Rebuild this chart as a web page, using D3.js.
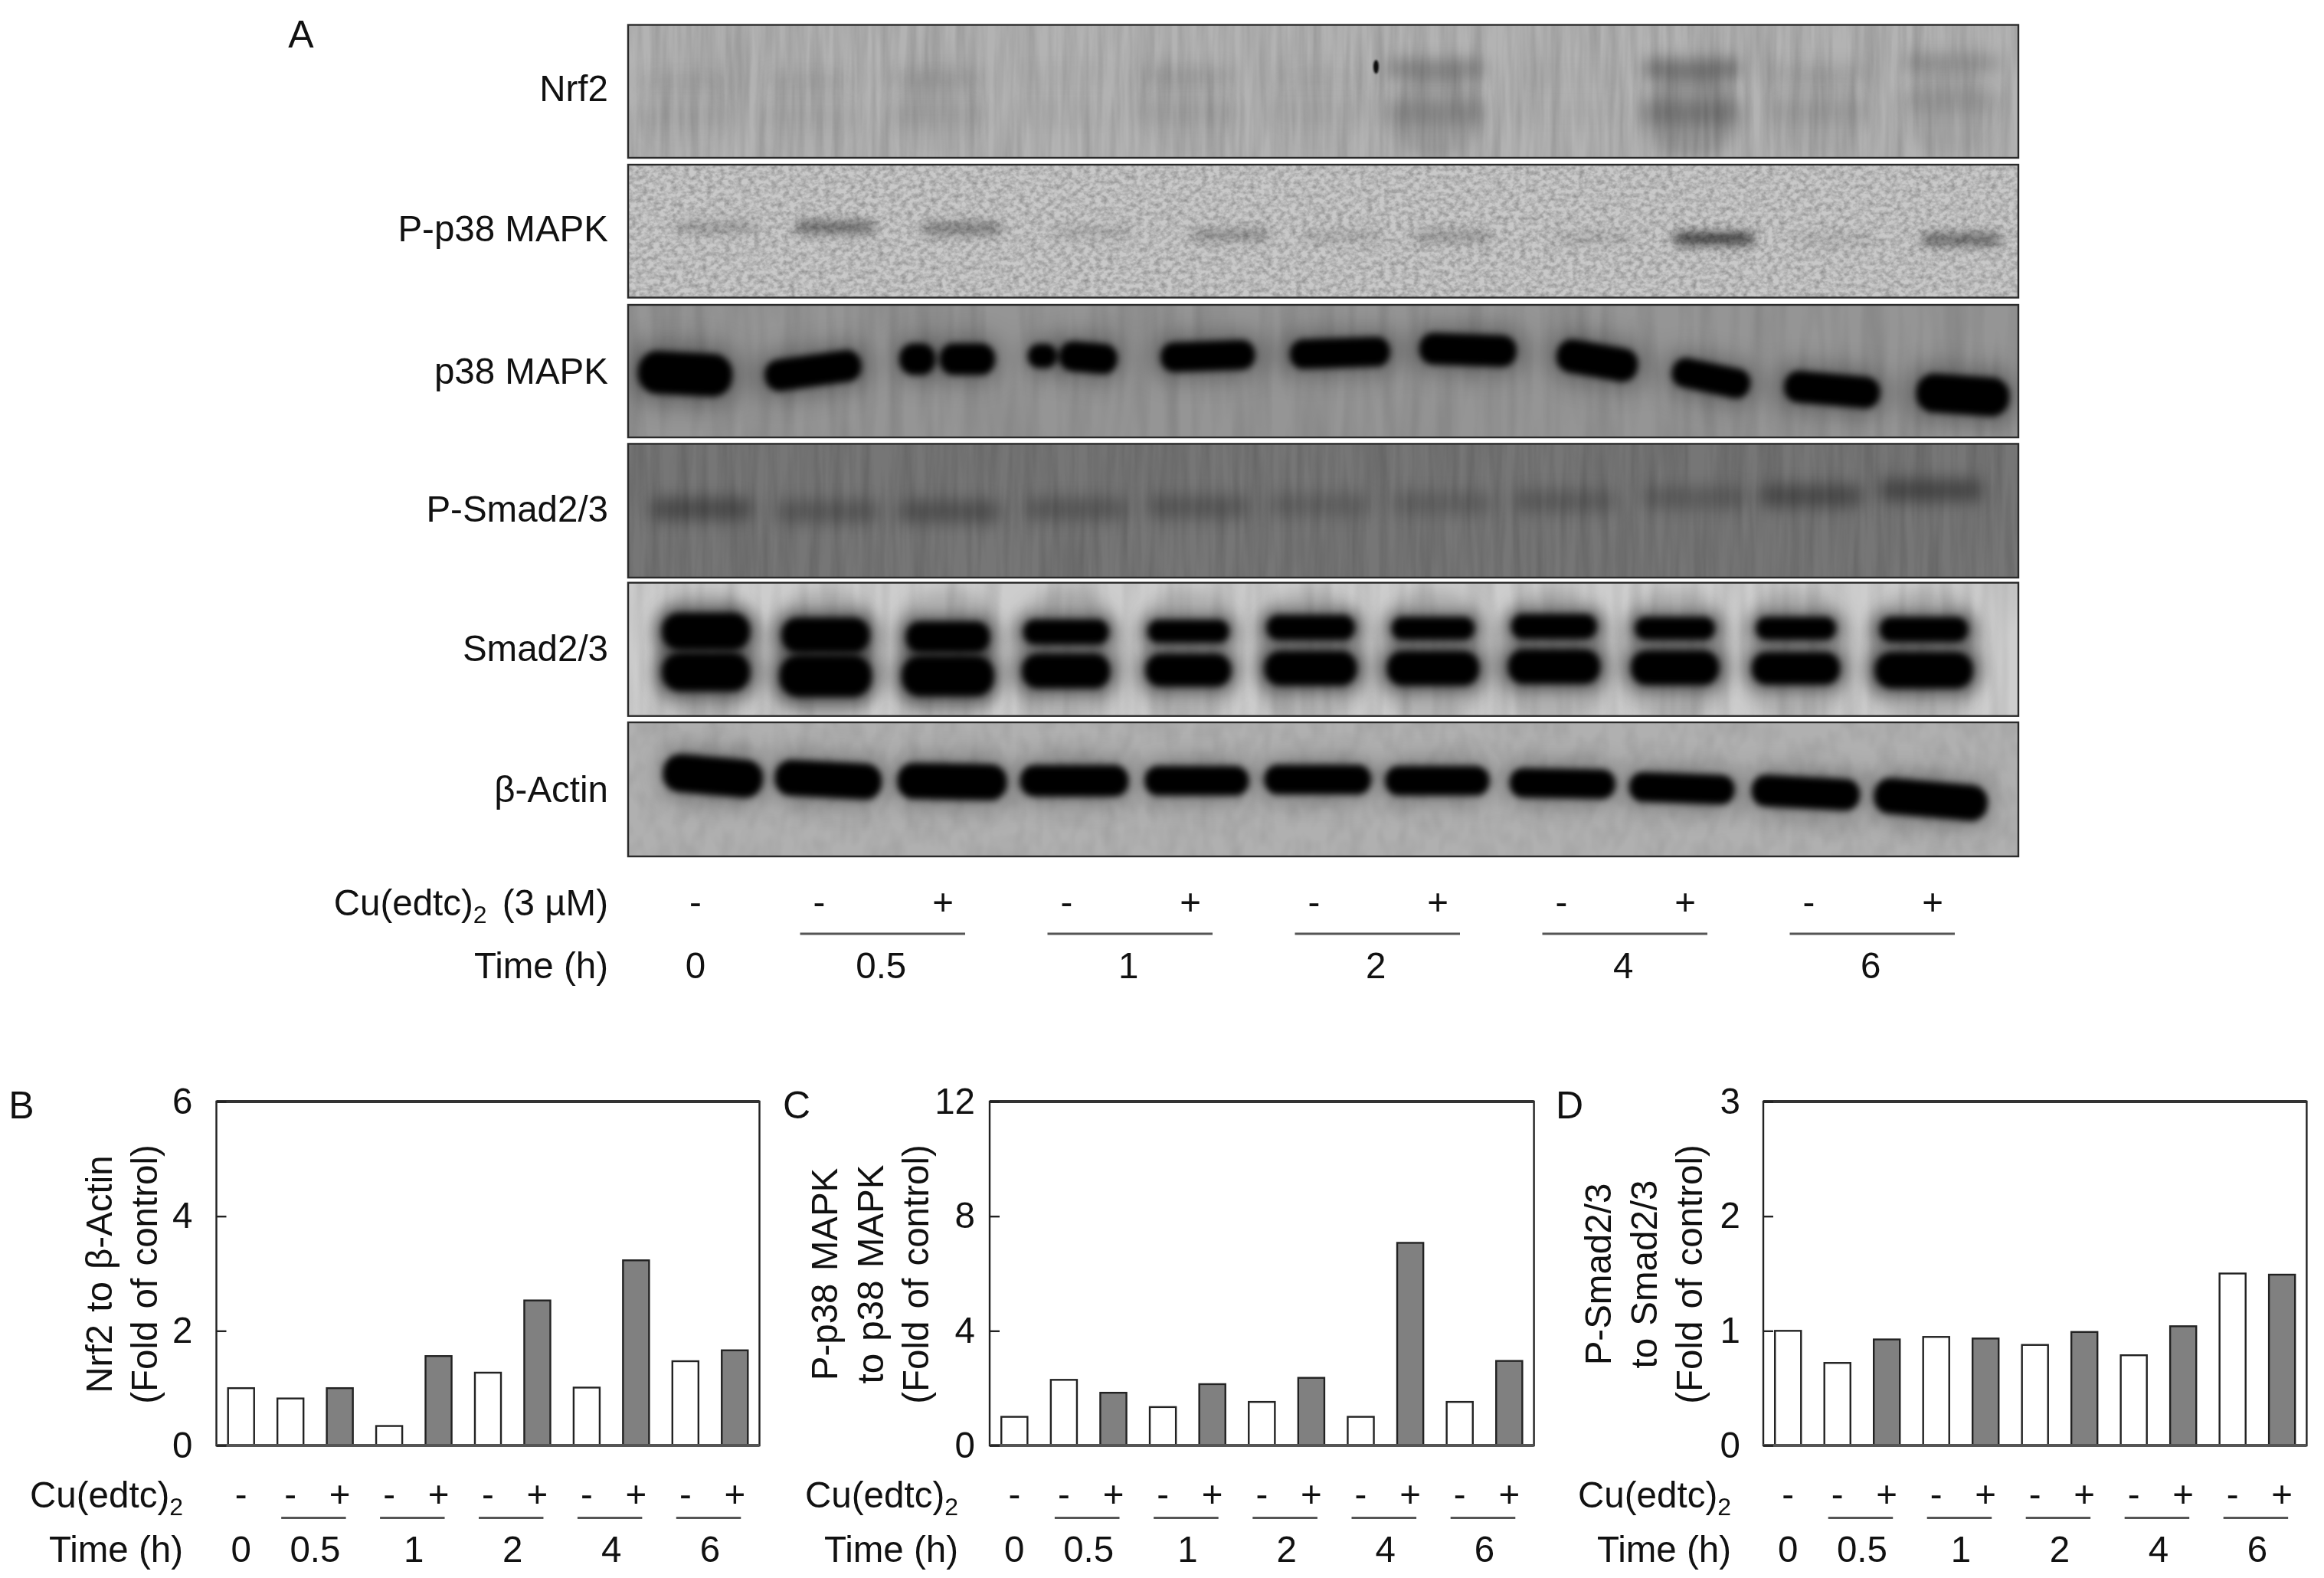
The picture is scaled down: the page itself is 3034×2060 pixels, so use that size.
<!DOCTYPE html>
<html><head><meta charset="utf-8">
<script src="https://cdn.jsdelivr.net/npm/d3@7/dist/d3.min.js"></script>
<style>
html,body{margin:0;padding:0;background:#fff}
svg{display:block;filter:blur(0.6px)}
text{font-family:"Liberation Sans",Arial,sans-serif;fill:#111}
</style></head><body>
<svg id="fig" width="3034" height="2060"></svg>
<script>
// ---------- data: bar charts ----------
const treatment = ["-","-","+","-","+","-","+","-","+","-","+"];
const timeLabels = ["0","0.5","1","2","4","6"];
const nrf2Values  = [1.00,0.82,1.00,0.34,1.56,1.27,2.53,1.01,3.23,1.47,1.66];
const pp38Values  = [1.00,2.29,1.84,1.34,2.14,1.52,2.36,1.00,7.07,1.52,2.95];
const psmadValues = [1.00,0.72,0.925,0.947,0.933,0.877,0.99,0.787,1.04,1.50,1.49];
const nrf2Ticks = [0,2,4,6], pp38Ticks = [0,4,8,12], psmadTicks = [0,1,2,3];
const blotLabels = ["Nrf2","P-p38 MAPK","p38 MAPK","P-Smad2/3","Smad2/3","β-Actin"];

// ---------- data: gel bands (percent of gel width / height, darkness 0..1) ----------
const nrf2LaneX   = [3.9,13,22.1,31.3,40.4,49.5,58.1,67.8,76.5,85.7,95.2];
const nrf2UpperY  = [42,42,40,38,38,38,33,38,33,36,29];
const nrf2LowerY  = [69,69,68,66,66,66,66,66,66,65,57];
const nrf2UpperD  = [.10,.10,.18,.04,.20,.06,.55,.03,.75,.18,.38];
const nrf2LowerD  = [.12,.10,.15,.05,.15,.08,.40,.03,.55,.20,.25];
const nrf2SmearD  = [.06,.06,.08,.0,.08,.04,.28,.0,.42,.14,.16];

const pp38LaneX = [6.3,14.9,24,33.4,43.3,51.4,59.3,69.4,78.1,86.8,95.9];
const pp38Y     = [47,47,48,50.6,52.9,54,54,55.2,55.6,56.3,56.3];
const pp38D     = [.22,.56,.44,.13,.30,.13,.24,.12,.88,.10,.58];

const p38X = [4.1,13.3,20.8,24.4,29.8,33.1,41.7,51.2,60.4,69.7,77.9,86.6,96];
const p38Y = [52,49.6,41,41,38.6,39.8,38.6,36.3,34,42,55.3,64,68];
const p38W = [6.8,7,2.6,4,2.1,4.2,6.8,7.2,7,5.9,5.7,6.9,6.7];
const p38H = [26.5,19.6,19.6,19.6,15,18.7,18.4,18.4,19.6,20.7,18.4,19.6,24];
const p38Tilt = [3,-8,0,0,0,5,-2,-2,2,10,12,5,4];

const psmadLaneX = [5.3,14.4,23.1,32.2,41,49.7,58.6,67.4,76.7,85.1,93.7];
const psmadY = [48.6,50.6,50.6,48.6,47.2,45.8,44.4,43,40.3,38.9,34.7];
const psmadD = [.50,.35,.42,.34,.34,.24,.24,.30,.30,.50,.55];

const smadLaneX  = [5.6,14.2,23,31.5,40.3,49.1,57.9,66.6,75.3,84,93.2];
const smadUpperY = [36.5,39.3,40.7,37,36.5,33.7,34.3,32.9,34.3,34.3,35.1];
const smadUpperH = [25,23.7,21,16.7,15.3,16.7,15.3,16.7,15.3,15.3,16.7];
const smadUpperW = [6.3,6.3,6,6.1,5.8,6.3,5.9,6.1,5.7,5.7,6.3];
const smadLowerY = [67,70,70,66.3,65.7,64.3,64.3,63,63.8,64.3,65.7];
const smadLowerH = [26.5,29,28,23.7,22.3,23.7,23.7,23.7,23.7,22.3,25];
const smadLowerW = [6.3,6.6,6.6,6.3,6.1,6.6,6.6,6.6,6.3,6.3,7];

const actinX = [6.1,14.4,23.3,32.1,40.9,49.6,58.2,67.2,75.8,84.7,93.7];
const actinY = [40,42.8,44.2,43.6,43.6,42.7,43.6,45.6,49.2,52.5,57.5];
const actinW = [7.2,7.7,7.9,7.8,7.5,7.7,7.5,7.6,7.6,7.8,8.2];
const actinH = [24.9,23.5,23.5,20.7,19.3,19.3,19.3,19.3,19.3,20.7,23.5];
const actinTilt = [5,3,1,0,0,0,0,1,2,3,5];

// ---------- layout ----------
const svg = d3.select("#fig");
const defs = svg.append("defs");
const FONT = 47.5;
function blurFilter(id,sd){
  const f=defs.append("filter").attr("id",id).attr("x","-150%").attr("y","-150%").attr("width","400%").attr("height","400%");
  f.append("feGaussianBlur").attr("stdDeviation",sd);
}
blurFilter("b1",.8);blurFilter("b4",4);blurFilter("b6",6);blurFilter("b10",10);blurFilter("b16",16);blurFilter("b26",26);
function grainFilter(id,freq,octaves,k,b,seed){
  const f=defs.append("filter").attr("id",id).attr("x",0).attr("y",0).attr("width","100%").attr("height","100%")
    .attr("color-interpolation-filters","sRGB");
  f.append("feTurbulence").attr("type","fractalNoise").attr("baseFrequency",freq).attr("numOctaves",octaves).attr("seed",seed).attr("stitchTiles","noStitch");
  f.append("feColorMatrix").attr("values",`0 0 0 0 0  0 0 0 0 0  0 0 0 0 0  ${k} 0 0 0 ${b}`);
}
grainFilter("gStreak","0.08 0.006",3,.24,-.075,4);
grainFilter("gSpeck","0.13 0.17",3,.5,-.17,9);
grainFilter("gSoft","0.05 0.006",2,.2,-.07,5);
grainFilter("gFine","0.05 0.03",2,.14,-.05,11);

const gelLeft=820, gelRight=2635;
const gelTop=[32.5,215,398,579.4,760.7,943];
const gelBottom=[206,388.5,571,754,934.7,1118];
const gelFill=["#b3b3b3","#c9c9c9","#959595","#767676","#cdcdcd","#b0b0b0"];
const gelGrain=["gStreak","gSpeck","gSoft","gStreak","gSoft","gFine"];
const xGel=d3.scaleLinear().domain([0,100]).range([gelLeft,gelRight]);
const gels=gelTop.map((t,i)=>{
  const yGel=d3.scaleLinear().domain([0,100]).range([t,gelBottom[i]]);
  defs.append("clipPath").attr("id","gel"+i).append("rect").attr("x",gelLeft).attr("y",t).attr("width",gelRight-gelLeft).attr("height",gelBottom[i]-t);
  const g=svg.append("g").attr("clip-path",`url(#gel${i})`);
  g.append("rect").attr("x",gelLeft).attr("y",t).attr("width",gelRight-gelLeft).attr("height",gelBottom[i]-t).attr("fill",gelFill[i]);
  g.append("rect").attr("x",gelLeft).attr("y",t).attr("width",gelRight-gelLeft).attr("height",gelBottom[i]-t).attr("filter",`url(#${gelGrain[i]})`);
  return {g,yGel,top:t,bottom:gelBottom[i]};
});
function bands(i,xs,ys,ws,hs,ds,tilts,blur){
  const {g,yGel}=gels[i];
  const rows=xs.map((x,k)=>({x:x,y:ys[k],w:ws[k],h:hs[k],d:ds[k],t:tilts?tilts[k]:0}));
  g.append("g").attr("filter",blur?`url(#${blur})`:null).selectAll("rect").data(rows).join("rect")
    .attr("x",d=>xGel(d.x-d.w/2)).attr("width",d=>xGel(d.w)-xGel(0))
    .attr("y",d=>yGel(d.y-d.h/2)).attr("height",d=>yGel(d.h)-yGel(0))
    .attr("rx",d=>Math.min(yGel(d.h)-yGel(0),xGel(d.w)-xGel(0))*.46)
    .attr("fill","#000").attr("opacity",d=>d.d)
    .attr("transform",d=>`rotate(${d.t} ${xGel(d.x)} ${yGel(d.y)})`);
}
const rep=(arr,v)=>arr.map(()=>v);
// Nrf2
bands(0,nrf2LaneX,rep(nrf2LaneX,68),rep(nrf2LaneX,6.6),rep(nrf2LaneX,64),nrf2SmearD.map(d=>d*.4),null,"b10");
bands(0,nrf2LaneX,nrf2UpperY,rep(nrf2LaneX,7),rep(nrf2LaneX,15),nrf2UpperD.map(d=>d*.46),null,"b10");
bands(0,nrf2LaneX,nrf2LowerY,rep(nrf2LaneX,7),rep(nrf2LaneX,18),nrf2LowerD.map(d=>d*.36),null,"b10");
// black speck in the Nrf2 panel
gels[0].g.append("ellipse").attr("cx",xGel(53.8)).attr("cy",gels[0].yGel(31.5)).attr("rx",3.5).attr("ry",9).attr("fill","#111").attr("filter","url(#b1)");
// P-p38
bands(1,pp38LaneX,pp38Y,rep(pp38LaneX,6),rep(pp38LaneX,12),pp38D.map(d=>d*.5),null,"b6");
bands(1,pp38LaneX,pp38Y,rep(pp38LaneX,4.6),rep(pp38LaneX,5),pp38D.map(d=>d*.32),null,"b4");
// p38
bands(2,p38X,p38Y,p38W.map(w=>w*1.2),p38H.map(h=>h*1.7),rep(p38X,.34),p38Tilt,"b16");
bands(2,p38X,p38Y,p38W,p38H.map(h=>h*1.22),rep(p38X,1),p38Tilt,"b4");
// P-Smad
bands(3,psmadLaneX,psmadY,rep(psmadLaneX,7.4),rep(psmadLaneX,17),psmadD.map(d=>d*.72),null,"b10");
// Smad2/3
bands(4,smadLaneX,rep(smadLaneX,55),smadLowerW.map(w=>w*1.25),rep(smadLaneX,100),rep(smadLaneX,.14),null,"b10");
bands(4,smadLaneX,smadUpperY,smadUpperW.map(w=>w*1.15),smadUpperH.map(h=>h*1.5),rep(smadLaneX,.5),null,"b10");
bands(4,smadLaneX,smadLowerY,smadLowerW.map(w=>w*1.15),smadLowerH.map(h=>h*1.5),rep(smadLaneX,.5),null,"b10");
bands(4,smadLaneX,smadUpperY,smadUpperW,smadUpperH.map(h=>h*1.1),rep(smadLaneX,1),null,"b4");
bands(4,smadLaneX,smadLowerY,smadLowerW,smadLowerH.map(h=>h*1.08),rep(smadLaneX,1),null,"b4");
// Actin
bands(5,actinX,actinY,actinW.map(w=>w*1.05),actinH.map(h=>h*1.5),rep(actinX,.35),actinTilt,"b16");
bands(5,actinX,actinY,actinW,actinH.map(h=>h*1.14),rep(actinX,1),actinTilt,"b4");
// gel frames
gels.forEach(g=>{
  svg.append("rect").attr("x",gelLeft).attr("y",g.top).attr("width",gelRight-gelLeft).attr("height",g.bottom-g.top)
    .attr("fill","none").attr("stroke","#2a2a2a").attr("stroke-width",2.4);
});
// gel labels
const gelLabelY=[115,298.5,484,664,846,1030];
svg.append("g").selectAll("text").data(blotLabels).join("text")
  .attr("x",794).attr("y",(d,i)=>gelLabelY[i]).attr("dy",".35em").attr("text-anchor","end").attr("font-size",FONT).text(d=>d);

function panelLetter(t,x,y){
  svg.append("text").attr("x",x).attr("y",y).attr("dy",".36em").attr("text-anchor","middle").attr("font-size",50).text(t);
}
panelLetter("A",393,44);

// Shared row of treatment signs / underlines / time labels
function treatmentRows(o){
  const {center,rowY,lineY,timeY,labelX,labelText,padL,padR}=o;
  const g=svg.append("g");
  const cu=g.append("text").attr("x",labelX).attr("y",rowY).attr("dy",".35em").attr("text-anchor","end").attr("font-size",FONT);
  cu.append("tspan").text("Cu(edtc)");
  cu.append("tspan").attr("font-size",32).attr("dy",10).text("2");
  if(labelText) cu.append("tspan").attr("dy",-10).attr("dx",7).text(labelText);
  g.append("text").attr("x",labelX).attr("y",timeY).attr("dy",".35em").attr("text-anchor","end").attr("font-size",FONT).text("Time (h)");
  g.selectAll("text.sign").data(treatment).join("text").attr("class","sign")
    .attr("x",(d,i)=>center(i)).attr("y",rowY).attr("dy",".33em").attr("text-anchor","middle").attr("font-size",FONT).text(d=>d);
  timeLabels.forEach((t,k)=>{
    const x = k===0?center(0):(center(2*k-1)+center(2*k))/2;
    g.append("text").attr("x",x).attr("y",timeY).attr("dy",".35em").attr("text-anchor","middle").attr("font-size",FONT).text(t);
    if(k>0) g.append("line").attr("x1",center(2*k-1)-padL).attr("x2",center(2*k)+padR).attr("y1",lineY).attr("y2",lineY).attr("stroke","#555").attr("stroke-width",3);
  });
}
const laneLabelX=d3.scalePoint().domain(d3.range(11)).range([908,2523]);
treatmentRows({center:i=>laneLabelX(i),rowY:1178,lineY:1219,timeY:1260,labelX:794,labelText:" (3 µM)",padL:25,padR:29});

// Bar panels
const chartTop=1438, chartBottom=1887;
function barPanel(o){
  const y=d3.scaleLinear().domain([0,o.ticks[o.ticks.length-1]]).range([chartBottom,chartTop]);
  const x=d3.scaleBand().domain(d3.range(11)).range([o.left,o.right]).paddingInner(.472).paddingOuter(.236);
  const g=svg.append("g");
  g.selectAll("rect.bar").data(o.values).join("rect").attr("class","bar")
    .attr("x",(d,i)=>x(i)).attr("width",x.bandwidth())
    .attr("y",d=>y(d)).attr("height",d=>y(0)-y(d))
    .attr("fill",(d,i)=>treatment[i]==="+"?"#808080":"#fff")
    .attr("stroke","#222").attr("stroke-width",2.4);
  g.append("rect").attr("x",o.left).attr("y",chartTop).attr("width",o.right-o.left).attr("height",chartBottom-chartTop)
    .attr("fill","none").attr("stroke","#222").attr("stroke-width",2.4);
  g.append("line").attr("x1",o.left).attr("x2",o.right).attr("y1",chartTop).attr("y2",chartTop).attr("stroke","#333").attr("stroke-width",4);
  g.append("line").attr("x1",o.left).attr("x2",o.right).attr("y1",chartBottom).attr("y2",chartBottom).attr("stroke","#555").attr("stroke-width",4);
  const ax=g.append("g").attr("transform",`translate(${o.left},0)`)
    .call(d3.axisLeft(y).tickValues(o.ticks).tickFormat(d3.format("d")).tickSizeInner(-13).tickSizeOuter(0).tickPadding(o.tickPad));
  ax.select(".domain").remove();
  ax.selectAll("line").attr("stroke","#222").attr("stroke-width",2.4);
  ax.selectAll("text").attr("font-size",FONT).attr("font-family",'"Liberation Sans",Arial,sans-serif').attr("fill","#111");
  const mid=(chartTop+chartBottom)/2+1;
  o.title.forEach((t,k)=>{
    g.append("text").attr("transform",`translate(${o.titleX[k]},${mid}) rotate(-90)`)
      .attr("text-anchor","middle").attr("font-size",FONT).attr("word-spacing",3).text(t);
  });
  panelLetter(o.letter,o.letterX,1442);
  treatmentRows({center:i=>x(i)+x.bandwidth()/2,rowY:1951,lineY:1981.6,timeY:2022,labelX:o.labelX,padL:12,padR:8});
}
barPanel({letter:"B",letterX:28,left:282.5,right:991.5,values:nrf2Values,ticks:nrf2Ticks,tickPad:31,
  title:["Nrf2 to β-Actin","(Fold of control)"],titleX:[146,205],labelX:239});
barPanel({letter:"C",letterX:1040,left:1292,right:2002.6,values:pp38Values,ticks:pp38Ticks,tickPad:19,
  title:["P-p38 MAPK","to p38 MAPK","(Fold of control)"],titleX:[1093,1153,1212],labelX:1251});
barPanel({letter:"D",letterX:2049,left:2302,right:3011.4,values:psmadValues,ticks:psmadTicks,tickPad:30,
  title:["P-Smad2/3","to Smad2/3","(Fold of control)"],titleX:[2103,2163,2222],labelX:2260});
</script></body></html>
